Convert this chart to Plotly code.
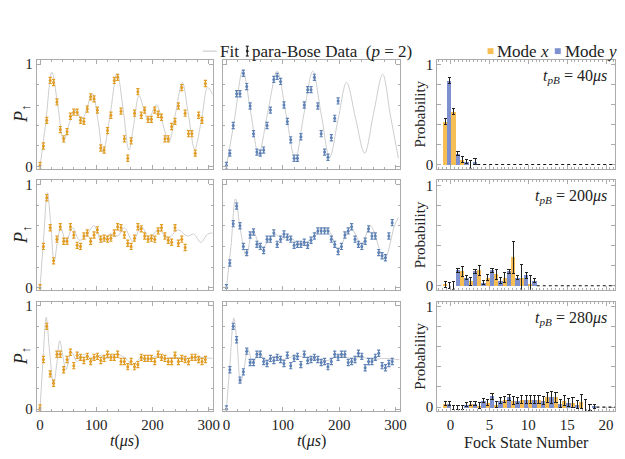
import plotly.graph_objects as go

# ---------------- data ----------------
t_top_left = list(range(0, 300, 6))
p_top_left = [0.01, 0.20, 0.45, 0.84, 0.82, 0.63, 0.36, 0.27, 0.34, 0.49, 0.53, 0.53, 0.45, 0.44, 0.56, 0.68,
              0.66, 0.55, 0.18, 0.16, 0.35, 0.50, 0.84, 0.87, 0.54, 0.27, 0.08, 0.25, 0.52, 0.73, 0.50, 0.55,
              0.46, 0.46, 0.55, 0.51, 0.48, 0.27, 0.27, 0.39, 0.44, 0.59, 0.77, 0.52, 0.32, 0.32, 0.13, 0.50,
              0.45, 0.81]
t_top_mid = list(range(0, 204, 6))
p_top_mid = [0.01, 0.13, 0.40, 0.71, 0.71, 0.91, 0.78, 0.59, 0.32, 0.14, 0.13, 0.16, 0.40, 0.55, 0.85, 0.88,
             0.83, 0.60, 0.44, 0.26, 0.08, 0.08, 0.29, 0.60, 0.75, 0.75, 0.87, 0.59, 0.32, 0.14, 0.09, 0.28,
             0.47, 0.64]
t_mid_left = list(range(0, 264, 6))
p_mid_left = [0.00, 0.40, 0.87, 0.58, 0.26, 0.47, 0.59, 0.45, 0.45, 0.59, 0.51, 0.41, 0.40, 0.50, 0.53, 0.45,
              0.51, 0.56, 0.47, 0.48, 0.47, 0.48, 0.53, 0.59, 0.58, 0.51, 0.43, 0.40, 0.48, 0.59, 0.57, 0.50,
              0.47, 0.48, 0.47, 0.55, 0.58, 0.50, 0.46, 0.44, 0.58, 0.43, 0.47, 0.39]
t_mid_mid = list(range(0, 300, 6))
p_mid_mid = [0.00, 0.24, 0.62, 0.79, 0.60, 0.40, 0.34, 0.51, 0.54, 0.42, 0.40, 0.36, 0.47, 0.47, 0.53, 0.42,
             0.47, 0.52, 0.49, 0.47, 0.41, 0.42, 0.42, 0.44, 0.41, 0.46, 0.50, 0.55, 0.55, 0.55, 0.55, 0.47,
             0.42, 0.35, 0.40, 0.51, 0.55, 0.59, 0.47, 0.42, 0.40, 0.45, 0.57, 0.50, 0.50, 0.34, 0.31, 0.29,
             0.50, 0.63]
t_bot_left = list(range(0, 300, 6))
p_bot_left = [0.01, 0.48, 0.80, 0.34, 0.25, 0.53, 0.53, 0.38, 0.48, 0.55, 0.42, 0.52, 0.50, 0.47, 0.51, 0.46,
              0.50, 0.51, 0.47, 0.49, 0.53, 0.50, 0.50, 0.53, 0.46, 0.46, 0.41, 0.46, 0.41, 0.43, 0.50, 0.49,
              0.49, 0.49, 0.46, 0.53, 0.50, 0.49, 0.46, 0.46, 0.52, 0.46, 0.49, 0.48, 0.46, 0.50, 0.50, 0.48,
              0.46, 0.48]
t_bot_mid = list(range(0, 300, 6))
p_bot_mid = [0.00, 0.38, 0.80, 0.67, 0.28, 0.36, 0.56, 0.45, 0.45, 0.53, 0.53, 0.46, 0.44, 0.49, 0.47, 0.50,
             0.48, 0.44, 0.52, 0.42, 0.49, 0.51, 0.43, 0.53, 0.47, 0.48, 0.50, 0.48, 0.45, 0.46, 0.41, 0.46,
             0.53, 0.50, 0.53, 0.53, 0.45, 0.46, 0.48, 0.54, 0.51, 0.40, 0.46, 0.46, 0.50, 0.54, 0.42, 0.40,
             0.44, 0.46]
data_err = 0.03

# fit curves
fit_tl_t = [0, 10, 21, 31, 42, 52, 62, 75, 93, 103, 112, 124, 137, 148, 158, 167, 176, 192, 207, 218, 229,
            241, 253, 264, 275, 287, 298, 307]
fit_tl_v = [0.0, 0.42, 0.92, 0.62, 0.25, 0.42, 0.55, 0.47, 0.71, 0.45, 0.14, 0.48, 0.91, 0.55, 0.16, 0.42,
            0.69, 0.46, 0.60, 0.42, 0.24, 0.52, 0.82, 0.50, 0.17, 0.45, 0.77, 0.70]
fit_tm_t = [0, 14, 29, 43, 57, 73, 90, 106, 122, 137, 153, 168, 183, 198, 213, 229, 245, 261, 277, 291, 305]
fit_tm_v = [0.0, 0.45, 0.94, 0.53, 0.12, 0.52, 0.93, 0.50, 0.07, 0.50, 0.93, 0.51, 0.09, 0.46, 0.82, 0.47,
            0.13, 0.52, 0.90, 0.49, 0.08]
fit_ml_t = [0, 6, 13, 19, 25, 31, 37, 46, 58, 70, 84, 96, 110, 124, 138, 150, 165, 180, 195, 210, 228, 245,
            262, 273, 286, 298, 307]
fit_ml_v = [0.0, 0.45, 0.92, 0.62, 0.25, 0.45, 0.58, 0.45, 0.58, 0.46, 0.52, 0.60, 0.44, 0.52, 0.50, 0.58,
            0.45, 0.59, 0.48, 0.56, 0.48, 0.56, 0.50, 0.52, 0.44, 0.52, 0.53]
fit_mm_t = [0, 8, 16, 25, 35, 47, 62, 78, 86, 100, 110, 125, 140, 152, 168, 182, 198, 220, 240, 255, 280,
            298, 305]
fit_mm_v = [0.0, 0.40, 0.86, 0.55, 0.31, 0.55, 0.38, 0.48, 0.52, 0.47, 0.50, 0.44, 0.43, 0.49, 0.57, 0.55,
            0.37, 0.58, 0.42, 0.60, 0.28, 0.60, 0.68]
fit_bl_t = [0, 5, 11, 17, 24, 30, 35, 41, 46, 56, 66, 78, 92, 105, 120, 135, 150, 165, 178, 190, 205, 220,
            240, 260, 280, 307]
fit_bl_v = [0.0, 0.45, 0.89, 0.55, 0.24, 0.45, 0.66, 0.50, 0.38, 0.55, 0.46, 0.53, 0.48, 0.52, 0.49, 0.53,
            0.50, 0.43, 0.49, 0.47, 0.51, 0.49, 0.50, 0.49, 0.50, 0.49]
fit_bm_t = [0, 6, 13, 19, 25, 31, 38, 47, 58, 70, 85, 100, 120, 140, 160, 180, 200, 220, 240, 260, 280, 300,
            307]
fit_bm_v = [0.0, 0.42, 0.88, 0.62, 0.26, 0.38, 0.58, 0.45, 0.55, 0.47, 0.51, 0.48, 0.51, 0.50, 0.48, 0.47,
            0.52, 0.49, 0.50, 0.48, 0.49, 0.48, 0.48]

# Fock state distributions
fock_40_x = [0.43, 0.53, 0.05, 0.00]
fock_40_x_err = [0.03, 0.03, 0.03, 0.04]
fock_40_y = [0.84, 0.11, 0.03, 0.03]
fock_40_y_err = [0.03, 0.02, 0.02, 0.03]

fock_200_x = [0.01, 0.00, 0.14, 0.045, 0.15, 0.08, 0.11, 0.08, 0.28, 0.08, 0.01]
fock_200_x_err = [0.03, 0.04, 0.05, 0.04, 0.05, 0.03, 0.05, 0.05, 0.16, 0.13, 0.09]
fock_200_y = [0.00, 0.15, 0.08, 0.14, 0.03, 0.15, 0.05, 0.14, 0.08, 0.10, 0.05]
fock_200_y_err = [0.03, 0.02, 0.02, 0.02, 0.02, 0.02, 0.03, 0.02, 0.02, 0.03, 0.02]

fock_280_x = [0.035, 0.00, 0.00, 0.035, 0.02, 0.05, 0.03, 0.08, 0.07, 0.08, 0.08, 0.08, 0.10, 0.10, 0.07,
              0.05, 0.06, 0.00]
fock_280_x_err = [0.02, 0.02, 0.02, 0.02, 0.03, 0.03, 0.03, 0.03, 0.04, 0.04, 0.04, 0.04, 0.05, 0.05, 0.05,
                  0.05, 0.07, 0.03]
fock_280_y = [0.035, 0.00, 0.03, 0.04, 0.07, 0.11, 0.07, 0.10, 0.07, 0.08, 0.08, 0.07, 0.10, 0.04, 0.05,
              0.03, 0.00, 0.01]
fock_280_y_err = [0.02, 0.02, 0.02, 0.02, 0.02, 0.03, 0.03, 0.03, 0.03, 0.04, 0.04, 0.04, 0.06, 0.04, 0.04,
                  0.04, 0.08, 0.02]

times_label = ["40", "200", "280"]

# ---------------- style ----------------
ORANGE = "#E19C24"
BLUE = "#5E81B5"
BAR_ORANGE = "#F7BE55"
BAR_BLUE = "#7F90CE"
FIT_GRAY = "#CDCDCD"
FRAME = "#ABABAB"
FONT = "Liberation Serif"
TXT = "#222222"

W, H = 625, 459


def px(x):
    return x / W


def py(y):
    return 1 - y / H


col_px = [(29, 207), (217.5, 396), (434, 614)]
row_px = [(49, 160), (172, 284), (296, 408)]

time_panels = [
    (0, 0, t_top_left, p_top_left, ORANGE, fit_tl_t, fit_tl_v),
    (0, 1, t_top_mid, p_top_mid, BLUE, fit_tm_t, fit_tm_v),
    (1, 0, t_mid_left, p_mid_left, ORANGE, fit_ml_t, fit_ml_v),
    (1, 1, t_mid_mid, p_mid_mid, BLUE, fit_mm_t, fit_mm_v),
    (2, 0, t_bot_left, p_bot_left, ORANGE, fit_bl_t, fit_bl_v),
    (2, 1, t_bot_mid, p_bot_mid, BLUE, fit_bm_t, fit_bm_v),
]
fock_panels = [
    (fock_40_x, fock_40_x_err, fock_40_y, fock_40_y_err),
    (fock_200_x, fock_200_x_err, fock_200_y, fock_200_y_err),
    (fock_280_x, fock_280_x_err, fock_280_y, fock_280_y_err),
]

BAR_RANGE = [-1.2, 19.7]

fig = go.Figure()
layout = {}
shapes = []
annotations = []


def aname(kind, k):
    return kind if k == 1 else f"{kind}{k}"


def ref(kind, k):
    return kind if k == 1 else f"{kind}{k}"


tickfont = dict(family=FONT, size=15, color=TXT)

for r in range(3):
    for c in range(3):
        k = r * 3 + c + 1
        xd = [px(col_px[c][0]), px(col_px[c][1])]
        yd = [py(row_px[r][1]), py(row_px[r][0])]
        common = dict(ticks="inside", ticklen=4, tickcolor=FRAME, tickwidth=1, showline=True,
                      linecolor=FRAME, linewidth=1, mirror="allticks", showgrid=False, zeroline=False,
                      tickfont=tickfont)
        if c < 2:
            xa = dict(domain=xd, anchor=ref("y", k), range=[-6, 307], tick0=0, dtick=100,
                      showticklabels=(r == 2),
                      minor=dict(tick0=0, dtick=20, ticks="inside", ticklen=2, tickcolor=FRAME), **common)
            ya = dict(domain=yd, anchor=ref("x", k), range=[-0.02, 1.04], tick0=0, dtick=1,
                      showticklabels=(c == 0),
                      minor=dict(tick0=0, dtick=0.2, ticks="inside", ticklen=2, tickcolor=FRAME), **common)
        else:
            xa = dict(domain=xd, anchor=ref("y", k), range=[-1.72, 21.16], tick0=0, dtick=5,
                      showticklabels=(r == 2),
                      minor=dict(tick0=0, dtick=0.5, ticks="inside", ticklen=2, tickcolor=FRAME), **common)
            ya = dict(domain=yd, anchor=ref("x", k), range=[-0.04, 1.05], tick0=0, dtick=1,
                      showticklabels=True,
                      minor=dict(tick0=0, dtick=0.2, ticks="inside", ticklen=2, tickcolor=FRAME), **common)
            # hidden category axis carrying the bar groups
            hk = 10 + r
            layout[f"xaxis{hk}"] = dict(domain=xd, anchor=ref("y", k), overlaying=ref("x", k),
                                        range=BAR_RANGE, visible=False, showgrid=False, zeroline=False)
        layout[aname("xaxis", k)] = xa
        layout[aname("yaxis", k)] = ya

# time-domain panels
for r, c, tt, pp, col, ft, fv in time_panels:
    k = r * 3 + c + 1
    fig.add_trace(go.Scatter(x=ft, y=fv, mode="lines", xaxis=ref("x", k), yaxis=ref("y", k),
                             line=dict(color=FIT_GRAY, width=1, shape="spline", smoothing=1.0),
                             hoverinfo="skip"))
    fig.add_trace(go.Scatter(x=tt, y=pp, mode="markers", xaxis=ref("x", k), yaxis=ref("y", k),
                             marker=dict(color=col, size=3),
                             error_y=dict(type="constant", value=data_err, color=col, thickness=1.2,
                                          width=1.6)))

# Fock panels
for r, (vx, ex, vy, ey) in enumerate(fock_panels):
    k = r * 3 + 3
    hx = f"x{10 + r}"
    n = list(range(len(vx)))
    # empty trace so that the framed Fock axes themselves get drawn
    fig.add_trace(go.Scatter(x=[], y=[], xaxis=ref("x", k), yaxis=ref("y", k), mode="markers",
                             hoverinfo="skip"))
    shapes.append(dict(type="line", xref=hx, yref=ref("y", k), x0=len(vx) - 0.5, x1=BAR_RANGE[1],
                       y0=0, y1=0, line=dict(color="#111111", width=1.1, dash="dot"), layer="above"))
    fig.add_trace(go.Bar(x=n, y=vx, xaxis=hx, yaxis=ref("y", k), marker=dict(color=BAR_ORANGE, line=dict(width=0)),
                         error_y=dict(type="data", array=ex, color="#222222", thickness=1, width=1.6)))
    fig.add_trace(go.Bar(x=n, y=vy, xaxis=hx, yaxis=ref("y", k), marker=dict(color=BAR_BLUE, line=dict(width=0)),
                         error_y=dict(type="data", array=ey, color="#222222", thickness=1, width=1.6)))
    yc = (row_px[r][0] + row_px[r][1]) / 2
    annotations.append(dict(x=px(608), y=py(row_px[r][0] + 17), xref="paper", yref="paper",
                            xanchor="right", yanchor="middle", showarrow=False,
                            text=f"<i>t<sub>pB</sub></i> = {times_label[r]}<i>μs</i>",
                            font=dict(family=FONT, size=16, color=TXT)))
    annotations.append(dict(x=px(417), y=py(yc), xref="paper", yref="paper", xanchor="center",
                            yanchor="middle", showarrow=False, textangle=-90, text="Probability",
                            font=dict(family=FONT, size=15, color=TXT)))
    annotations.append(dict(x=px(14), y=py(yc), xref="paper", yref="paper", xanchor="center",
                            yanchor="middle", showarrow=False, textangle=-90,
                            text="<i>P</i><sub>↑</sub>", font=dict(family=FONT, size=18, color=TXT)))

# axis titles
for xc in [118, 307]:
    annotations.append(dict(x=px(xc), y=py(439), xref="paper", yref="paper", xanchor="center",
                            yanchor="middle", showarrow=False, text="<i>t</i>(<i>μs</i>)",
                            font=dict(family=FONT, size=16, color=TXT)))
annotations.append(dict(x=px(524), y=py(440), xref="paper", yref="paper", xanchor="center",
                        yanchor="middle", showarrow=False, text="Fock State Number",
                        font=dict(family=FONT, size=16, color=TXT)))

# legend (top)
LY = 40
shapes.append(dict(type="line", xref="paper", yref="paper", x0=px(197), x1=px(211), y0=py(LY), y1=py(LY),
                   line=dict(color=FIT_GRAY, width=1.2)))
annotations.append(dict(x=px(212), y=py(LY), xref="paper", yref="paper", xanchor="left", yanchor="middle",
                        showarrow=False, text="Fit", font=dict(family=FONT, size=17, color=TXT)))
IX = 242
shapes.append(dict(type="line", xref="paper", yref="paper", x0=px(IX), x1=px(IX), y0=py(LY - 5),
                   y1=py(LY + 5), line=dict(color="#222222", width=1.2)))
for dy in (-5, 5):
    shapes.append(dict(type="line", xref="paper", yref="paper", x0=px(IX - 1.5), x1=px(IX + 1.5),
                       y0=py(LY + dy), y1=py(LY + dy), line=dict(color="#222222", width=1.2)))
shapes.append(dict(type="circle", xref="paper", yref="paper", x0=px(IX - 1.3), x1=px(IX + 1.3),
                   y0=py(LY + 1.3), y1=py(LY - 1.3), fillcolor="#222222", line=dict(width=0)))
annotations.append(dict(x=px(IX + 3), y=py(LY), xref="paper", yref="paper", xanchor="left", yanchor="middle",
                        showarrow=False, text="para-Bose Data&nbsp;&nbsp;(<i>p</i> = 2)",
                        font=dict(family=FONT, size=17, color=TXT)))
# legend (modes)
for xs, colr, lab in [(488, BAR_ORANGE, "Mode <i>x</i>"), (556, BAR_BLUE, "Mode <i>y</i>")]:
    shapes.append(dict(type="rect", xref="paper", yref="paper", x0=px(xs - 3), x1=px(xs + 3),
                       y0=py(LY + 3), y1=py(LY - 3), fillcolor=colr, line=dict(width=0)))
    annotations.append(dict(x=px(xs + 5), y=py(LY), xref="paper", yref="paper", xanchor="left",
                            yanchor="middle", showarrow=False, text=lab,
                            font=dict(family=FONT, size=17, color=TXT)))

fig.update_layout(width=W, height=H, margin=dict(l=0, r=0, t=0, b=0), showlegend=False,
                  plot_bgcolor="white", paper_bgcolor="white", barmode="group", bargap=0,
                  bargroupgap=0, font=dict(family=FONT, size=15, color=TXT),
                  shapes=shapes, annotations=annotations, **layout)

fig.write_html("out.html")
